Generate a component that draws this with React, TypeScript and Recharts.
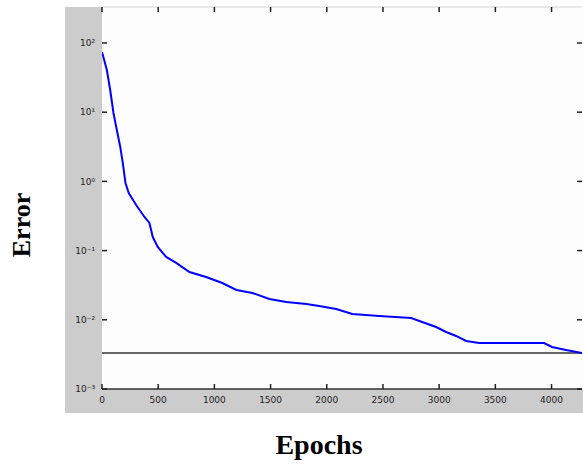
import { Line, LineChart, ReferenceLine, XAxis, YAxis } from 'recharts'

const epochs = [
  0, 43, 73, 102, 132, 162, 185, 209, 238, 304, 378, 422, 452, 496, 571, 660, 778, 926, 1071,
  1196, 1338, 1489, 1640, 1818, 1933, 2084, 2227, 2467, 2751, 2849, 2973, 3062, 3151, 3240,
  3356, 3933, 4004, 4129, 4271,
]
const errors = [
  74.1, 40.7, 20.9, 9.73, 5.53, 3.17, 1.85, 0.948, 0.679, 0.456, 0.306, 0.251, 0.157, 0.113,
  0.0809, 0.0663, 0.0491, 0.0415, 0.034, 0.027, 0.0244, 0.02, 0.0181, 0.0169, 0.0158, 0.0143,
  0.0121, 0.0113, 0.0106, 0.00929, 0.00787, 0.00667, 0.00584, 0.00494, 0.00462, 0.00462,
  0.00405, 0.00366, 0.00331,
]
const goal = 0.0033

const xDomain = [0, 4271]
const yDomain = [0.001, 331]
const xTicks = [0, 500, 1000, 1500, 2000, 2500, 3000, 3500, 4000]
const yTicks = [0.001, 0.01, 0.1, 1, 10, 100]
const yTickLabels = ['10⁻³', '10⁻²', '10⁻¹', '10⁰', '10¹', '10²']

const data = epochs.map((epoch, i) => ({ epoch, error: errors[i] }))

const tickColor = '#222'
const labelFont = 'DejaVu Sans'
const titleFont = "'Liberation Serif', 'Times New Roman', serif"

// matlab style ticks point into the axes box
function BottomTick({ x, y, payload }: any) {
  return (
    <g>
      <line x1={x} x2={x} y1={y} y2={y - 5} stroke={tickColor} strokeWidth={1.5} />
      <text x={x} y={y + 8} dy="0.71em" textAnchor="middle" fontSize={9} fontFamily={labelFont} fill="#222">
        {payload.value}
      </text>
    </g>
  )
}

function TopTick({ x, y }: any) {
  const top = Number(y)
  return (
    <g>
      <rect x={Number(x) - 0.75} y={top} width={1.5} height={5} fill={tickColor} />
    </g>
  )
}

function LeftTick({ x, y, payload }: any) {
  const label = yTickLabels[yTicks.indexOf(payload.value)] ?? ''
  return (
    <g>
      <line x1={x} x2={x + 5} y1={y} y2={y} stroke={tickColor} strokeWidth={1.5} />
      <text x={x - 7} y={y} dy="0.35em" textAnchor="end" fontSize={9} fontFamily={labelFont} fill="#222">
        {label}
      </text>
    </g>
  )
}

function RightTick({ x, y }: any) {
  return (
    <g>
      <line x1={x} x2={x - 5} y1={y} y2={y} stroke={tickColor} strokeWidth={1.5} />
    </g>
  )
}

export default function App() {
  return (
    <div style={{ position: 'absolute', left: 0, top: 0, width: 583, height: 468, background: '#fff' }}>
      <div
        style={{ position: 'absolute', left: 65, top: 7, width: 518, height: 406, background: '#cccccc' }}
      />
      <div
        style={{ position: 'absolute', left: 102, top: 7, width: 481, height: 382, background: '#fdfdfd' }}
      />
      <div style={{ position: 'absolute', left: 0, top: 0 }}>
        <LineChart
          width={583}
          height={468}
          data={data}
          margin={{ top: 6, right: 0, left: 65, bottom: 55 }}
        >
          <XAxis
            dataKey="epoch"
            type="number"
            domain={xDomain}
            ticks={xTicks}
            allowDataOverflow
            height={24}
            tickSize={0}
            tickMargin={0}
            tick={<BottomTick />}
            axisLine={false}
            tickLine={false}
          />
          <XAxis
            xAxisId="top"
            orientation="top"
            dataKey="epoch"
            type="number"
            domain={xDomain}
            ticks={xTicks}
            allowDataOverflow
            height={1}
            tickSize={0}
            tickMargin={0}
            tick={<TopTick />}
            axisLine={false}
            tickLine={false}
          />
          <YAxis
            scale="log"
            type="number"
            domain={yDomain}
            ticks={yTicks}
            allowDataOverflow
            width={37}
            tickSize={0}
            tickMargin={0}
            tick={<LeftTick />}
            axisLine={false}
            tickLine={false}
          />
          <YAxis
            yAxisId="right"
            orientation="right"
            scale="log"
            type="number"
            domain={yDomain}
            ticks={yTicks}
            allowDataOverflow
            width={1}
            tickSize={0}
            tickMargin={0}
            tick={<RightTick />}
            axisLine={false}
            tickLine={false}
          />
          <ReferenceLine y={yDomain[1]} stroke="#d4d4d4" strokeWidth={1} />
          <ReferenceLine y={yDomain[0]} stroke="#333" strokeWidth={1.5} />
          <ReferenceLine y={goal} stroke="#333" strokeWidth={1.5} />
          <Line
            dataKey="error"
            type="linear"
            stroke="#0000ff"
            strokeWidth={2}
            dot={false}
            isAnimationActive={false}
          />
        </LineChart>
      </div>
      <svg
        width={583}
        height={468}
        style={{ position: 'absolute', left: 0, top: 0, pointerEvents: 'none' }}
      >
        <text
          x={319}
          y={454}
          textAnchor="middle"
          fontFamily={titleFont}
          fontWeight="bold"
          fontSize={28}
          fill="#000"
        >
          Epochs
        </text>
        <text
          x={0}
          y={0}
          transform="translate(30 225) rotate(-90)"
          textAnchor="middle"
          fontFamily={titleFont}
          fontWeight="bold"
          fontSize={26}
          fill="#000"
        >
          Error
        </text>
      </svg>
    </div>
  )
}
